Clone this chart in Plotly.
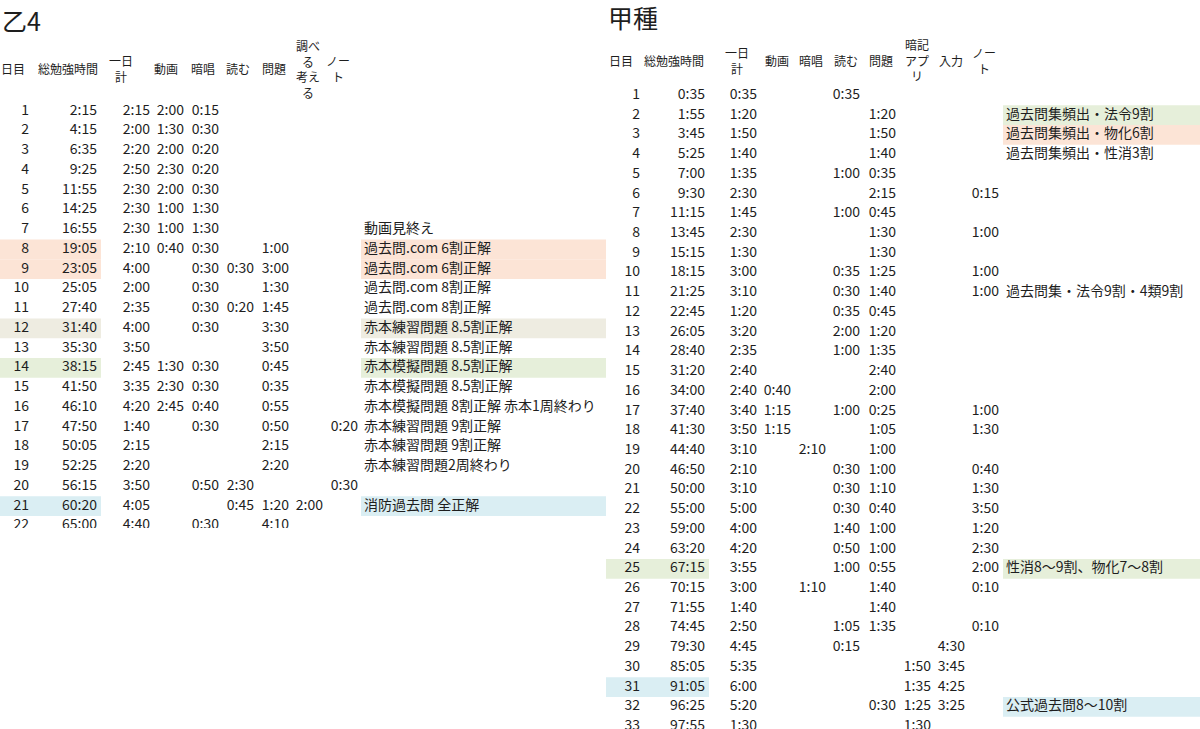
import plotly.graph_objects as go

# ---- data: 乙4 (left sheet) ----
L_DAY = [1, 2, 3, 4, 5, 6, 7, 8, 9, 10, 11, 12, 13, 14, 15, 16, 17, 18, 19, 20, 21, 22]
L_TOTAL = ["2:15", "4:15", "6:35", "9:25", "11:55", "14:25", "16:55", "19:05", "23:05", "25:05", "27:40",
           "31:40", "35:30", "38:15", "41:50", "46:10", "47:50", "50:05", "52:25", "56:15", "60:20", "65:00"]
L_DAILY = ["2:15", "2:00", "2:20", "2:50", "2:30", "2:30", "2:30", "2:10", "4:00", "2:00", "2:35",
           "4:00", "3:50", "2:45", "3:35", "4:20", "1:40", "2:15", "2:20", "3:50", "4:05", "4:40"]
L_VIDEO = {1: "2:00", 2: "1:30", 3: "2:00", 4: "2:30", 5: "2:00", 6: "1:00", 7: "1:00", 8: "0:40",
           14: "1:30", 15: "2:30", 16: "2:45"}
L_RECITE = {1: "0:15", 2: "0:30", 3: "0:20", 4: "0:20", 5: "0:30", 6: "1:30", 7: "1:30", 8: "0:30",
            9: "0:30", 10: "0:30", 11: "0:30", 12: "0:30", 14: "0:30", 15: "0:30", 16: "0:40",
            17: "0:30", 20: "0:50", 22: "0:30"}
L_READ = {9: "0:30", 11: "0:20", 20: "2:30", 21: "0:45"}
L_PROB = {8: "1:00", 9: "3:00", 10: "1:30", 11: "1:45", 12: "3:30", 13: "3:50", 14: "0:45", 15: "0:35",
          16: "0:55", 17: "0:50", 18: "2:15", 19: "2:20", 21: "1:20", 22: "4:10"}
L_THINK = {21: "2:00"}
L_NOTEBOOK = {17: "0:20", 20: "0:30"}
L_MEMO = {7: "動画見終え", 8: "過去問.com 6割正解", 9: "過去問.com 6割正解", 10: "過去問.com 8割正解",
          11: "過去問.com 8割正解", 12: "赤本練習問題 8.5割正解", 13: "赤本練習問題 8.5割正解",
          14: "赤本模擬問題 8.5割正解", 15: "赤本模擬問題 8.5割正解",
          16: "赤本模擬問題 8割正解 赤本1周終わり", 17: "赤本練習問題 9割正解",
          18: "赤本練習問題 9割正解", 19: "赤本練習問題2周終わり", 21: "消防過去問 全正解"}
L_HEADERS = ["日目", "総勉強時間", "一日<br>計", "動画", "暗唱", "読む", "問題", "調べ<br>る<br>考え<br>る", "ノー<br>ト"]
L_FILL = {8: "orange", 9: "orange", 12: "tan", 14: "green", 21: "blue"}

# ---- data: 甲種 (right sheet) ----
R_DAY = [1, 2, 3, 4, 5, 6, 7, 8, 9, 10, 11, 12, 13, 14, 15, 16, 17, 18, 19, 20, 21, 22, 23, 24, 25,
         26, 27, 28, 29, 30, 31, 32, 33]
R_TOTAL = ["0:35", "1:55", "3:45", "5:25", "7:00", "9:30", "11:15", "13:45", "15:15", "18:15", "21:25",
           "22:45", "26:05", "28:40", "31:20", "34:00", "37:40", "41:30", "44:40", "46:50", "50:00",
           "55:00", "59:00", "63:20", "67:15", "70:15", "71:55", "74:45", "79:30", "85:05", "91:05",
           "96:25", "97:55"]
R_DAILY = ["0:35", "1:20", "1:50", "1:40", "1:35", "2:30", "1:45", "2:30", "1:30", "3:00", "3:10",
           "1:20", "3:20", "2:35", "2:40", "2:40", "3:40", "3:50", "3:10", "2:10", "3:10", "5:00",
           "4:00", "4:20", "3:55", "3:00", "1:40", "2:50", "4:45", "5:35", "6:00", "5:20", "1:30"]
R_VIDEO = {16: "0:40", 17: "1:15", 18: "1:15"}
R_RECITE = {19: "2:10", 26: "1:10"}
R_READ = {1: "0:35", 5: "1:00", 7: "1:00", 10: "0:35", 11: "0:30", 12: "0:35", 13: "2:00", 14: "1:00",
          17: "1:00", 20: "0:30", 21: "0:30", 22: "0:30", 23: "1:40", 24: "0:50", 25: "1:00",
          28: "1:05", 29: "0:15"}
R_PROB = {2: "1:20", 3: "1:50", 4: "1:40", 5: "0:35", 6: "2:15", 7: "0:45", 8: "1:30", 9: "1:30",
          10: "1:25", 11: "1:40", 12: "0:45", 13: "1:20", 14: "1:35", 15: "2:40", 16: "2:00",
          17: "0:25", 18: "1:05", 19: "1:00", 20: "1:00", 21: "1:10", 22: "0:40", 23: "1:00",
          24: "1:00", 25: "0:55", 26: "1:40", 27: "1:40", 28: "1:35", 32: "0:30"}
R_APP = {30: "1:50", 31: "1:35", 32: "1:25", 33: "1:30"}
R_INPUT = {29: "4:30", 30: "3:45", 31: "4:25", 32: "3:25"}
R_NOTEBOOK = {6: "0:15", 8: "1:00", 10: "1:00", 11: "1:00", 17: "1:00", 18: "1:30", 20: "0:40",
              21: "1:30", 22: "3:50", 23: "1:20", 24: "2:30", 25: "2:00", 26: "0:10", 28: "0:10"}
R_MEMO = {2: "過去問集頻出・法令9割", 3: "過去問集頻出・物化6割", 4: "過去問集頻出・性消3割",
          11: "過去問集・法令9割・4類9割", 25: "性消8〜9割、物化7〜8割", 32: "公式過去問8〜10割"}
R_HEADERS = ["日目", "総勉強時間", "一日<br>計", "動画", "暗唱", "読む", "問題", "暗記<br>アプ<br>リ", "入力", "ノー<br>ト"]
R_FILL_DAY = {25: "green", 31: "blue"}
R_FILL_MEMO = {2: "green", 3: "orange", 25: "green", 32: "blue"}

# ---- styling / layout ----
FILLS = {"orange": "#fce4d6", "tan": "#eeece1", "green": "#e6efda", "blue": "#daeef3"}
FONT = "Noto Sans CJK JP, Noto Sans, sans-serif"
INK = "#1e1e1e"

L_COLS = [29, 97, 150, 184, 219, 254, 289, 323, 358]   # right edges of numeric columns
L_HEAD_X = [13, 68, 121, 166, 203, 238, 274, 308, 338]
L_MEMO_X = 364
R_COLS = [640, 705, 757, 791, 826, 860, 896, 931, 965, 999]
R_HEAD_X = [621, 674, 737, 777, 811, 846, 881, 917, 951, 984]
R_MEMO_X = 1006

# pixel row pitch of each sheet
L_ROW1, L_PITCH = 111, 19.75
R_ROW1, R_PITCH = 95.5, 19.72


def full(col, days):
    return [col.get(d, "") for d in days]


fig = go.Figure()


def add_col(x, days, texts, yaxis, pos="middle left"):
    fig.add_trace(go.Scatter(
        x=[x] * len(days), y=days, text=texts, mode="text", textposition=pos,
        textfont=dict(family=FONT, size=14, color=INK), yaxis=yaxis,
        hoverinfo="skip", showlegend=False, cliponaxis=False,
    ))


left_cols = [[str(d) for d in L_DAY], L_TOTAL, L_DAILY, full(L_VIDEO, L_DAY), full(L_RECITE, L_DAY),
             full(L_READ, L_DAY), full(L_PROB, L_DAY), full(L_THINK, L_DAY), full(L_NOTEBOOK, L_DAY)]
for x, col in zip(L_COLS, left_cols):
    add_col(x, L_DAY, col, "y")
add_col(L_MEMO_X, L_DAY, full(L_MEMO, L_DAY), "y", pos="middle right")

right_cols = [[str(d) for d in R_DAY], R_TOTAL, R_DAILY, full(R_VIDEO, R_DAY), full(R_RECITE, R_DAY),
              full(R_READ, R_DAY), full(R_PROB, R_DAY), full(R_APP, R_DAY), full(R_INPUT, R_DAY),
              full(R_NOTEBOOK, R_DAY)]
for x, col in zip(R_COLS, right_cols):
    add_col(x, R_DAY, col, "y2")
add_col(R_MEMO_X, R_DAY, full(R_MEMO, R_DAY), "y2", pos="middle right")

# cell fills
for d, c in L_FILL.items():
    for x0, x1 in [(0, 101), (361, 606)]:
        fig.add_shape(type="rect", xref="x", yref="y", x0=x0, x1=x1, y0=d - 0.5, y1=d + 0.5,
                      fillcolor=FILLS[c], line_width=0, layer="below")
for d, c in R_FILL_DAY.items():
    fig.add_shape(type="rect", xref="x", yref="y2", x0=606, x1=709, y0=d - 0.5, y1=d + 0.5,
                  fillcolor=FILLS[c], line_width=0, layer="below")
for d, c in R_FILL_MEMO.items():
    fig.add_shape(type="rect", xref="x", yref="y2", x0=1003, x1=1200, y0=d - 0.5, y1=d + 0.5,
                  fillcolor=FILLS[c], line_width=0, layer="below")

# left screenshot is cropped just below row 22
fig.add_shape(type="rect", xref="x", yref="y", x0=-5, x1=604, y0=22.12, y1=40,
              fillcolor="white", line_width=0, layer="above")

# headers and titles
for x, h in zip(L_HEAD_X, L_HEADERS):
    fig.add_annotation(x=x, y=-1.15, xref="x", yref="y", text=h, showarrow=False,
                       font=dict(family=FONT, size=12, color=INK), align="center")
for x, h in zip(R_HEAD_X, R_HEADERS):
    fig.add_annotation(x=x, y=1 + (60 - R_ROW1) / R_PITCH, xref="x", yref="y2", text=h, showarrow=False,
                       font=dict(family=FONT, size=12, color=INK), align="center")
fig.add_annotation(x=0, y=1 - 20 / 729, xref="x", yref="paper", text="乙4", showarrow=False,
                   xanchor="left", yanchor="middle", font=dict(family=FONT, size=25, color=INK))
fig.add_annotation(x=606, y=1 - 17 / 729, xref="x", yref="paper", text="甲種", showarrow=False,
                   xanchor="left", yanchor="middle", font=dict(family=FONT, size=25, color=INK))

fig.update_layout(
    width=1200, height=729, margin=dict(l=0, r=0, t=0, b=0),
    paper_bgcolor="white", plot_bgcolor="white",
    xaxis=dict(range=[0, 1200], visible=False, fixedrange=True),
    yaxis=dict(range=[1 + (729 - L_ROW1) / L_PITCH, 1 - L_ROW1 / L_PITCH], visible=False, fixedrange=True),
    yaxis2=dict(range=[1 + (729 - R_ROW1) / R_PITCH, 1 - R_ROW1 / R_PITCH], visible=False, overlaying="y",
                fixedrange=True),
)

# page body has a default 8px margin; drop it so the figure sits at the window origin
fig.write_html("out.html", config={"displayModeBar": False},
               post_script="document.body.style.margin='0';")
